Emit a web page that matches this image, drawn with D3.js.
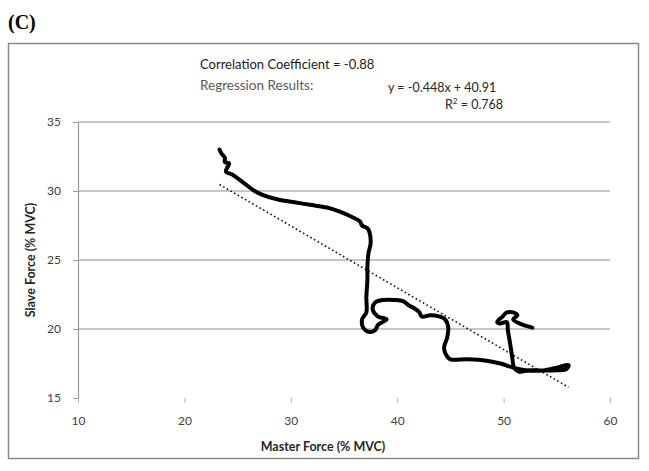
<!DOCTYPE html>
<html>
<head>
<meta charset="utf-8">
<script src="https://cdn.jsdelivr.net/npm/d3@7"></script>
<style>
  body { margin: 0; background: #fff; }
  text { font-family: Lato, "Open Sans", sans-serif; }
</style>
</head>
<body>
<svg width="649" height="471"></svg>
<script>
// master vs slave force trace (% MVC)
var masterForce = [23.3, 23.5, 23.8, 23.8, 24.2, 24.1, 23.9, 24.5, 25.2, 25.9,
  26.4, 27.4, 28.7, 30.2, 31.8, 33.4, 34.6, 35.8, 36.5, 36.7,
  37.2, 37.4, 37.5, 37.3, 37.2, 37.2, 37.1, 37.1, 36.7, 36.8,
  37.3, 37.9, 38.2, 39.0, 38.2, 37.7, 37.9, 38.7, 39.8, 40.6,
  41.1, 41.6, 42.1, 42.3, 43.1, 44.0, 44.5, 44.8, 44.7, 44.4,
  44.7, 45.0, 46.6, 48.4, 49.7, 50.9, 52.2, 53.7, 55.0, 56.1,
  55.9, 54.6, 53.4, 52.3, 51.5, 51.0, 50.8, 50.6, 50.4, 50.3,
  49.7, 49.4, 49.9, 50.3, 50.9, 51.3, 50.9, 51.5, 52.7];
var slaveForce = [33.0, 32.7, 32.4, 32.1, 32.0, 31.8, 31.4, 31.2, 30.8, 30.4,
  30.1, 29.7, 29.4, 29.2, 29.0, 28.8, 28.5, 28.1, 27.8, 27.5,
  27.3, 27.0, 26.2, 25.5, 24.5, 23.6, 22.3, 21.2, 20.7, 20.1,
  19.8, 19.9, 20.3, 20.7, 20.9, 21.4, 21.9, 22.1, 22.1, 22.0,
  21.7, 21.5, 21.2, 20.9, 21.0, 20.9, 20.7, 20.1, 19.4, 18.6,
  18.0, 17.8, 17.8, 17.7, 17.5, 17.2, 17.0, 17.0, 17.2, 17.4,
  17.1, 17.0, 17.0, 17.0, 16.9, 17.2, 18.0, 19.0, 19.9, 20.5,
  20.4, 20.5, 20.9, 21.2, 21.2, 21.0, 20.7, 20.4, 20.1];

var xTicks = [10, 20, 30, 40, 50, 60];
var yTicks = [15, 20, 25, 30, 35];
var gridValues = [20, 25, 30, 35];

// linear fit given on the chart
var slope = -0.448, intercept = 40.91;

var svg = d3.select("svg");

var x = d3.scaleLinear().domain([10, 60]).range([78, 610]);
var y = d3.scaleLinear().domain([15, 35]).range([398, 122]);

// panel letter
svg.append("text")
  .attr("x", 8).attr("y", 29)
  .style("font-family", "'Liberation Serif', serif")
  .style("font-weight", "bold")
  .style("font-size", "20px")
  .text("(C)");

// outer chart frame
svg.append("rect")
  .attr("x", 8.5).attr("y", 43.5)
  .attr("width", 630).attr("height", 415)
  .attr("fill", "none")
  .attr("stroke", "#8a8a8a")
  .attr("stroke-width", 1.5);

// gridlines
svg.append("g").selectAll("line")
  .data(gridValues)
  .enter().append("line")
  .attr("x1", x(10)).attr("x2", x(60))
  .attr("y1", function(d) { return y(d); })
  .attr("y2", function(d) { return y(d); })
  .attr("stroke", "#b3b3b3")
  .attr("stroke-width", 1.5);

// y axis
var yAxis = svg.append("g")
  .attr("transform", "translate(" + x(10) + ",0)")
  .call(d3.axisLeft(y).tickValues(yTicks).tickSize(5).tickPadding(12));
yAxis.select(".domain").attr("stroke", "#9a9a9a").attr("stroke-width", 1.2);
yAxis.selectAll(".tick line").attr("stroke", "#9a9a9a");
yAxis.selectAll("text")
  .style("font-size", "12px")
  .attr("fill", "#404040");

// x axis: ticks only, no line
var xAxis = svg.append("g")
  .attr("transform", "translate(0," + y(15) + ")")
  .call(d3.axisBottom(x).tickValues(xTicks).tickSize(5).tickPadding(13));
xAxis.select(".domain").remove();
xAxis.selectAll(".tick line").attr("stroke", "#b0b0b0");
xAxis.selectAll("text")
  .style("font-size", "12px")
  .attr("fill", "#404040");

// axis titles
svg.append("text")
  .attr("x", 323).attr("y", 451)
  .attr("text-anchor", "middle")
  .style("font-size", "12.5px")
  .style("font-weight", "bold")
  .attr("fill", "#262626")
  .text("Master Force (% MVC)");

svg.append("text")
  .attr("transform", "translate(35,260) rotate(-90)")
  .attr("text-anchor", "middle")
  .style("font-size", "12.5px")
  .style("font-weight", "bold")
  .attr("fill", "#262626")
  .text("Slave Force (% MVC)");

// trend line over the data's x range
var xExtent = d3.extent(masterForce);
svg.append("line")
  .attr("x1", x(xExtent[0])).attr("y1", y(slope * xExtent[0] + intercept))
  .attr("x2", x(xExtent[1])).attr("y2", y(slope * xExtent[1] + intercept))
  .attr("stroke", "#111")
  .attr("stroke-width", 1.6)
  .attr("stroke-dasharray", "1.6,2.6");

// the force trace
var line = d3.line()
  .x(function(d) { return x(d[0]); })
  .y(function(d) { return y(d[1]); })
  .curve(d3.curveCatmullRom.alpha(0.5));

svg.append("path")
  .datum(d3.zip(masterForce, slaveForce))
  .attr("d", line)
  .attr("fill", "none")
  .attr("stroke", "#000")
  .attr("stroke-width", 4)
  .attr("stroke-linejoin", "round")
  .attr("stroke-linecap", "round");

// stats text
svg.append("text")
  .attr("x", 200).attr("y", 69)
  .style("font-size", "13px")
  .attr("fill", "#1a1a1a")
  .text("Correlation Coefficient = -0.88");

svg.append("text")
  .attr("x", 200).attr("y", 90)
  .style("font-size", "13.5px")
  .attr("fill", "#595959")
  .text("Regression Results:");

svg.append("text")
  .attr("x", 388).attr("y", 92)
  .style("font-size", "12.5px")
  .attr("fill", "#262626")
  .text("y = -0.448x + 40.91");

var r2 = svg.append("text")
  .attr("x", 445).attr("y", 109)
  .style("font-size", "12.5px")
  .attr("fill", "#262626");
r2.append("tspan").text("R");
r2.append("tspan").attr("dy", -5).style("font-size", "8px").text("2");
r2.append("tspan").attr("dy", 5).text(" = 0.768");
</script>
</body>
</html>
